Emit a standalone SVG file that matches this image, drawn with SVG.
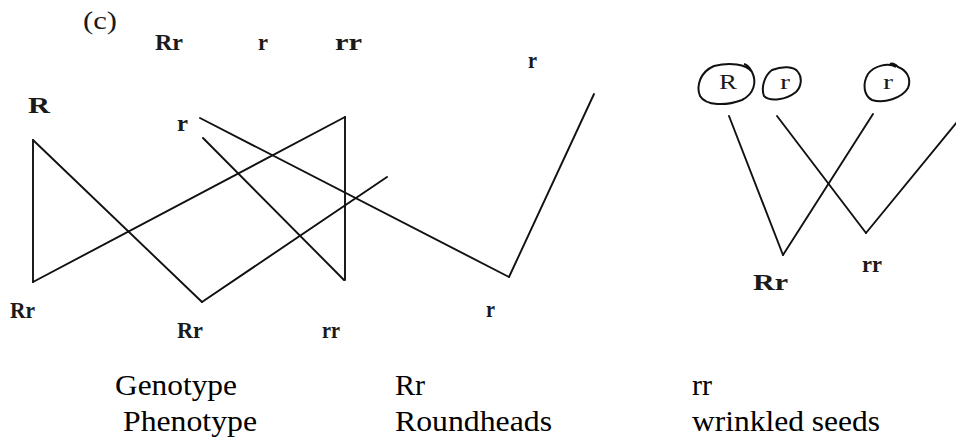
<svg xmlns="http://www.w3.org/2000/svg" width="956" height="440" viewBox="0 0 956 440">
<style>
.hand{font-family:"Liberation Serif","Times New Roman",serif;font-size:24px;font-weight:bold;fill:#1a1a1a}
.small{font-size:22px;font-weight:normal}
.txt{font-family:"Liberation Serif","Times New Roman",serif;font-size:30px;fill:#000}
.ln{stroke:#111;stroke-width:1.9;fill:none;stroke-linecap:round;stroke-linejoin:round}
.loop{stroke:#111;stroke-width:2;fill:none}
</style>
<rect width="956" height="440" fill="#fff"/>
<g id="label-c"><text class="hand" style="font-weight:normal;font-size:26px" x="83" y="29" textLength="34" lengthAdjust="spacingAndGlyphs">(c)</text></g>
<g id="top-Rr"><text class="hand" x="155" y="50" textLength="28" lengthAdjust="spacingAndGlyphs">Rr</text></g>
<g id="top-r"><text class="hand" x="258" y="50" textLength="10" lengthAdjust="spacingAndGlyphs">r</text></g>
<g id="top-rr"><text class="hand" x="335" y="50" textLength="27" lengthAdjust="spacingAndGlyphs">rr</text></g>
<g id="left-R"><text class="hand" x="28" y="113" textLength="22" lengthAdjust="spacingAndGlyphs">R</text></g>
<g id="left-r"><text class="hand" x="177" y="131" textLength="11" lengthAdjust="spacingAndGlyphs">r</text></g>
<g id="right-r"><text class="hand" x="528" y="68" textLength="9" lengthAdjust="spacingAndGlyphs">r</text></g>
<g id="bottom-Rr1"><text class="hand" x="10" y="318" textLength="25" lengthAdjust="spacingAndGlyphs">Rr</text></g>
<g id="bottom-Rr2"><text class="hand" x="177" y="338" textLength="26" lengthAdjust="spacingAndGlyphs">Rr</text></g>
<g id="bottom-rr"><text class="hand" x="322" y="338" textLength="18" lengthAdjust="spacingAndGlyphs">rr</text></g>
<g id="bottom-r"><text class="hand" x="486" y="317" textLength="9" lengthAdjust="spacingAndGlyphs">r</text></g>
<g id="circle-R">
<path class="loop" d="M752,72 C746,64 730,62 714,66 C700,72 696,86 700,96 C706,106 726,106 742,100 C754,94 757,82 752,72 C750,68 748,65 744,64"/>
<text class="hand small" x="719" y="89" textLength="18" lengthAdjust="spacingAndGlyphs">R</text></g>
<g id="circle-r1">
<path class="loop" d="M798,72 C794,66 782,66 772,70 C764,76 761,88 764,96 C770,102 786,100 796,92 C802,86 802,77 798,72"/>
<text class="hand small" x="780" y="89" textLength="10" lengthAdjust="spacingAndGlyphs">r</text></g>
<g id="circle-r2">
<path class="loop" d="M896,67 C888,62 874,66 868,74 C862,84 864,96 872,100 C884,104 902,98 908,88 C912,78 906,70 898,67 C895,64 892,63 890,64"/>
<text class="hand small" x="883" y="89" textLength="10" lengthAdjust="spacingAndGlyphs">r</text></g>
<g id="right-Rr"><text class="hand" x="753" y="290" textLength="35" lengthAdjust="spacingAndGlyphs">Rr</text></g>
<g id="right-rr"><text class="hand" x="862" y="272" textLength="20" lengthAdjust="spacingAndGlyphs">rr</text></g>
<g id="connectors">
<line class="ln" x1="33" y1="140" x2="33" y2="282"/>
<line class="ln" x1="33" y1="140" x2="202" y2="302"/>
<line class="ln" x1="33" y1="282" x2="345" y2="117"/>
<line class="ln" x1="345" y1="117" x2="345" y2="280"/>
<line class="ln" x1="202" y1="302" x2="387" y2="177"/>
<line class="ln" x1="200" y1="118" x2="509" y2="277"/>
<line class="ln" x1="203" y1="138" x2="344" y2="280"/>
<line class="ln" x1="509" y1="277" x2="594" y2="94"/>
<line class="ln" x1="729" y1="116" x2="783" y2="255"/>
<line class="ln" x1="873" y1="114" x2="783" y2="255"/>
<line class="ln" x1="777" y1="116" x2="866" y2="233"/>
<line class="ln" x1="866" y1="233" x2="962" y2="116"/>
</g>
<g id="genotype-row">
<text class="txt" x="115" y="395" textLength="122" lengthAdjust="spacingAndGlyphs">Genotype</text>
<text class="txt" x="395" y="395" textLength="30" lengthAdjust="spacingAndGlyphs">Rr</text>
<text class="txt" x="692" y="395" textLength="20" lengthAdjust="spacingAndGlyphs">rr</text>
</g>
<g id="phenotype-row">
<text class="txt" x="123" y="431" textLength="134" lengthAdjust="spacingAndGlyphs">Phenotype</text>
<text class="txt" x="395" y="431" textLength="157" lengthAdjust="spacingAndGlyphs">Roundheads</text>
<text class="txt" x="692" y="431" textLength="188" lengthAdjust="spacingAndGlyphs">wrinkled seeds</text>
</g>
</svg>
